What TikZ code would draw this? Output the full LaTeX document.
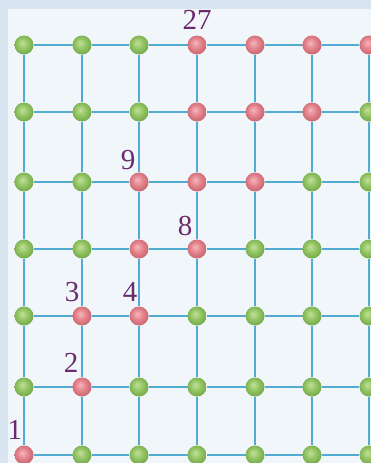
\documentclass[tikz,border=0pt]{standalone}
\usepackage{fontspec}
\setmainfont{Liberation Serif}
\definecolor{bgout}{HTML}{D8E4EF}
\definecolor{panel}{HTML}{F1F6FA}
\definecolor{gridc}{HTML}{52ABD3}
\definecolor{lab}{HTML}{6B2A6E}
\definecolor{gl}{HTML}{C2E09A}
\definecolor{gm}{HTML}{94C564}
\definecolor{gd}{HTML}{6CA346}
\definecolor{rl}{HTML}{F5B8BD}
\definecolor{rm}{HTML}{E4838C}
\definecolor{rd}{HTML}{C2606A}
\pgfdeclareradialshading{gsph}{\pgfpoint{-5bp}{6bp}}{color(0bp)=(gl); color(14bp)=(gm); color(30bp)=(gd); color(50bp)=(gd)}
\pgfdeclareradialshading{rsph}{\pgfpoint{-5bp}{6bp}}{color(0bp)=(rl); color(14bp)=(rm); color(30bp)=(rd); color(50bp)=(rd)}
\tikzset{
  dotg/.style={circle, minimum size=19pt, inner sep=0pt, shading=gsph},
  dotr/.style={circle, minimum size=19pt, inner sep=0pt, shading=rsph},
  gline/.style={draw=gridc, line width=1.5pt},
  gthick/.style={draw=gridc, line width=2.6pt},
  numlab/.style={text=lab, font=\fontsize{29}{29}\selectfont, inner sep=0pt}
}
\begin{document}
\begin{tikzpicture}[x=1pt,y=-1pt]
\fill[bgout] (0,0) rectangle (371,463);
\fill[panel] (8,9) rectangle (371,463);
\useasboundingbox (0,0) rectangle (371,463);
% nodes
\foreach \r/\y in {1/45,2/112,3/182,4/249,5/316,6/387,7/455}{
  \foreach \c/\x in {1/24,2/82,3/139,4/197,5/255,6/312,7/369}{
    \pgfmathtruncatemacro{\isred}{
      (\r==1 && \c>=4) || (\r==2 && \c>=4 && \c<=6) || (\r==3 && \c>=3 && \c<=5)
      || (\r==4 && (\c==3 || \c==4)) || (\r==5 && (\c==2 || \c==3))
      || (\r==6 && \c==2) || (\r==7 && \c==1) ? 1 : 0}
    \ifnum\isred=1
      \node[dotr] (n\r\c) at (\x,\y) {};
    \else
      \node[dotg] (n\r\c) at (\x,\y) {};
    \fi
  }
}
% horizontal lines
\foreach \r in {1,...,6}{
  \foreach \c [evaluate=\c as \d using int(\c+1)] in {1,...,6}{
    \path[gline] (n\r\c) -- (n\r\d);
  }
}
\foreach \c [evaluate=\c as \d using int(\c+1)] in {1,...,6}{
  \path[gthick] (n7\c) -- (n7\d);
}
% vertical lines
\foreach \c in {2,...,7}{
  \foreach \r [evaluate=\r as \s using int(\r+1)] in {1,...,6}{
    \path[gline] (n\r\c) -- (n\s\c);
  }
}
\foreach \r [evaluate=\r as \s using int(\r+1)] in {1,...,6}{
  \path[gthick] (n\r1) -- (n\s1);
}
% labels
\node[numlab] (l27) at (197,20) {27};
\node[numlab] (l9) at (128,160) {9};
\node[numlab] (l8) at (185,226) {8};
\node[numlab] (l3) at (72,292) {3};
\node[numlab] (l4) at (130,292) {4};
\node[numlab] (l2) at (71,363) {2};
\node[numlab] (l1) at (15,430) {1};
\end{tikzpicture}
\end{document}
